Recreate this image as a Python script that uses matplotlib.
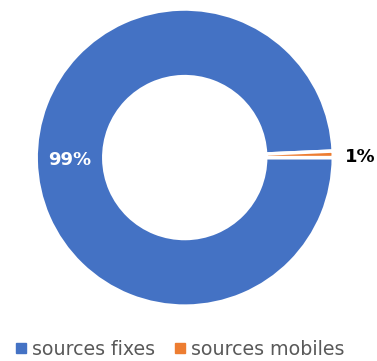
import numpy as np
import matplotlib.pyplot as plt
from matplotlib.lines import Line2D

# data
labels = ['sources fixes', 'sources mobiles']
values = [99.3, 0.7]
pct_text = ['99%', '1%']
colors = ['#4472C4', '#ED7D31']

fig = plt.figure(figsize=(3.77, 3.61), dpi=100)
ax = fig.add_axes([0.096, 0.152, 0.788, 0.823])

wedges, _ = ax.pie(values, colors=colors, startangle=0, counterclock=False,
                   radius=1.0, wedgeprops=dict(width=0.455, edgecolor='white', linewidth=2.5))

# percentage labels
for i, w in enumerate(wedges):
    ang = np.deg2rad((w.theta1 + w.theta2) / 2)
    if i == 0:
        r, c, dy = 0.775, 'white', 0.0
    else:
        r, c, dy = 1.18, 'black', -0.025
    ax.text(r*np.cos(ang), r*np.sin(ang) + dy, pct_text[i], ha='center', va='center',
            fontsize=13, fontweight='bold', color=c)

ax.set_xlim(-1, 1)
ax.set_ylim(-1, 1)
ax.set_aspect('equal')
ax.axis('off')

handles = [Line2D([], [], marker='s', ls='none', color=c, markersize=6.5) for c in colors]
fig.legend(handles, labels, loc='lower center', ncol=2, frameon=False,
           bbox_to_anchor=(0.475, -0.042), fontsize=13.7, labelcolor='#595959',
           handletextpad=0.2, columnspacing=0.9, handlelength=0.8)

fig.savefig('out.png', dpi=100)
